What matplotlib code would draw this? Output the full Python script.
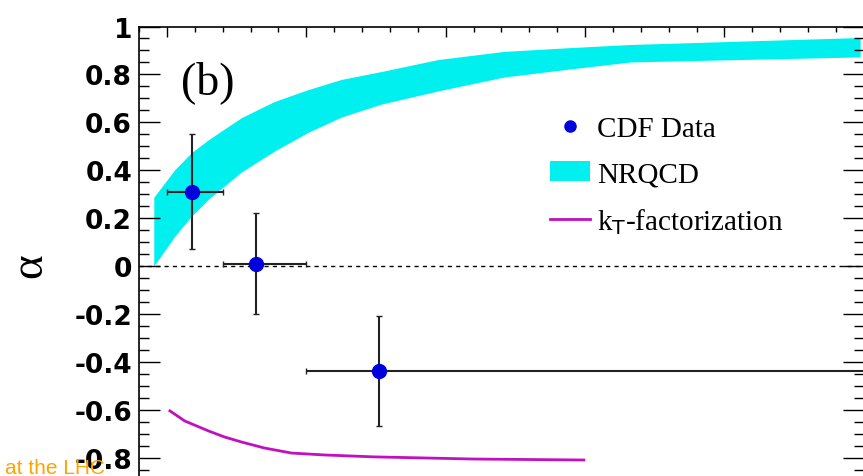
import numpy as np
import matplotlib.pyplot as plt
from matplotlib.ticker import MultipleLocator, FixedLocator, FixedFormatter
from matplotlib.lines import Line2D
from matplotlib.patches import Patch

# CDF data points (pT bins)
bin_lo = [5.0, 7.0, 10.0]
bin_hi = [7.0, 10.0, 30.0]
pt_mean = [5.9, 8.2, 12.6]
alpha_cdf = [0.31, 0.01, -0.44]
alpha_err = [0.24, 0.21, 0.23]

# NRQCD band
nrqcd_pt = [4.53, 5.29, 5.89, 6.5, 7.68, 8.86, 10.08, 11.26, 12.69, 14.73, 17.09, 19.49, 21.64, 29.87]
nrqcd_up = [0.287, 0.403, 0.474, 0.528, 0.62, 0.687, 0.737, 0.779, 0.812, 0.862, 0.896, 0.912, 0.925, 0.954]
nrqcd_dn = [0.0, 0.125, 0.209, 0.28, 0.393, 0.48, 0.559, 0.622, 0.676, 0.731, 0.789, 0.823, 0.852, 0.873]

# kT-factorization curve
kt_pt = [5.11, 5.64, 6.5, 7.07, 7.68, 8.5, 9.47, 10.65, 12.44, 16.02, 19.96]
kt_alpha = [-0.605, -0.647, -0.689, -0.714, -0.735, -0.76, -0.781, -0.789, -0.797, -0.806, -0.81]

ytick_vals = [-0.8, -0.6, -0.4, -0.2, 0.0, 0.2, 0.4, 0.6, 0.8, 1.0]
ytick_labels = ["-0.8", "-0.6", "-0.4", "-0.2", "0", "0.2", "0.4", "0.6", "0.8", "1"]

W, H = 863, 477
fig = plt.figure(figsize=(W / 100, H / 100), dpi=100)
left, right = 139, 863.75
top, bot = 27.5, 506.5
ax = fig.add_axes([left / W, 1 - bot / H, (right - left) / W, (bot - top) / H])

ax.fill_between(nrqcd_pt, nrqcd_dn, nrqcd_up, color="#00F0F0", lw=0, zorder=1)
ax.plot(kt_pt, kt_alpha, color="#C010C0", lw=2, zorder=2)
ax.axhline(0, color="k", lw=1, ls=(0, (3, 3)), zorder=2)

xerr = [np.array(pt_mean) - np.array(bin_lo), np.array(bin_hi) - np.array(pt_mean)]
ax.errorbar(pt_mean, alpha_cdf, xerr=xerr, yerr=alpha_err, fmt="o", color="#0000DD",
            ms=10, ecolor="#222222", elinewidth=1.5, capsize=2, zorder=3)

ax.set_xlim(4, 30)
ax.set_ylim(-1, 1)

ax.xaxis.set_major_locator(MultipleLocator(5))
ax.xaxis.set_minor_locator(MultipleLocator(1))
ax.yaxis.set_major_locator(FixedLocator(ytick_vals))
ax.yaxis.set_major_formatter(FixedFormatter(ytick_labels))
ax.yaxis.set_minor_locator(MultipleLocator(0.05))

ax.tick_params(axis="x", which="both", direction="in", top=True, bottom=True, labelbottom=False)
ax.tick_params(axis="x", which="major", length=7, width=1)
ax.tick_params(axis="x", which="minor", length=3.6, width=1)
ax.tick_params(axis="y", which="both", direction="in", left=True, right=True)
ax.tick_params(axis="y", which="major", length=15, width=1, pad=5)
ax.tick_params(axis="y", which="minor", length=7, width=1)
for lab in ax.get_yticklabels():
    lab.set_fontsize(19)
    lab.set_fontweight("bold")
    lab.set_family("DejaVu Sans")
for s in ax.spines.values():
    s.set_linewidth(1.2)

ax.text(0.095, 0.885, "(b)", transform=ax.transAxes, ha="center", va="center",
        fontsize=33, family="Liberation Serif")
fig.text(30 / W, 1 - 266 / H, "α", rotation=90, ha="center", va="center",
         fontsize=34, family="Liberation Serif")

handles = [
    Line2D([], [], marker="o", ls="none", color="#0000DD", ms=8),
    Patch(facecolor="#00F0F0", edgecolor="none"),
    Line2D([], [], color="#C010C0", lw=2),
]
labels = ["CDF Data", "NRQCD", r"k$_{\mathrm{T}}$-factorization"]
leg = ax.legend(handles, labels, loc="upper left", bbox_to_anchor=(0.567, 0.814),
                frameon=False, borderpad=0, borderaxespad=0, handlelength=1.38,
                handletextpad=0.24, labelspacing=0.65,
                prop={"family": "Liberation Serif", "size": 21})

fig.text(105 / W, 1 - 474 / H, "at the LHC", ha="right", va="baseline",
         fontsize=15, color="#FFA500", family="Liberation Sans", zorder=10)

fig.savefig("out.png", dpi=100)
